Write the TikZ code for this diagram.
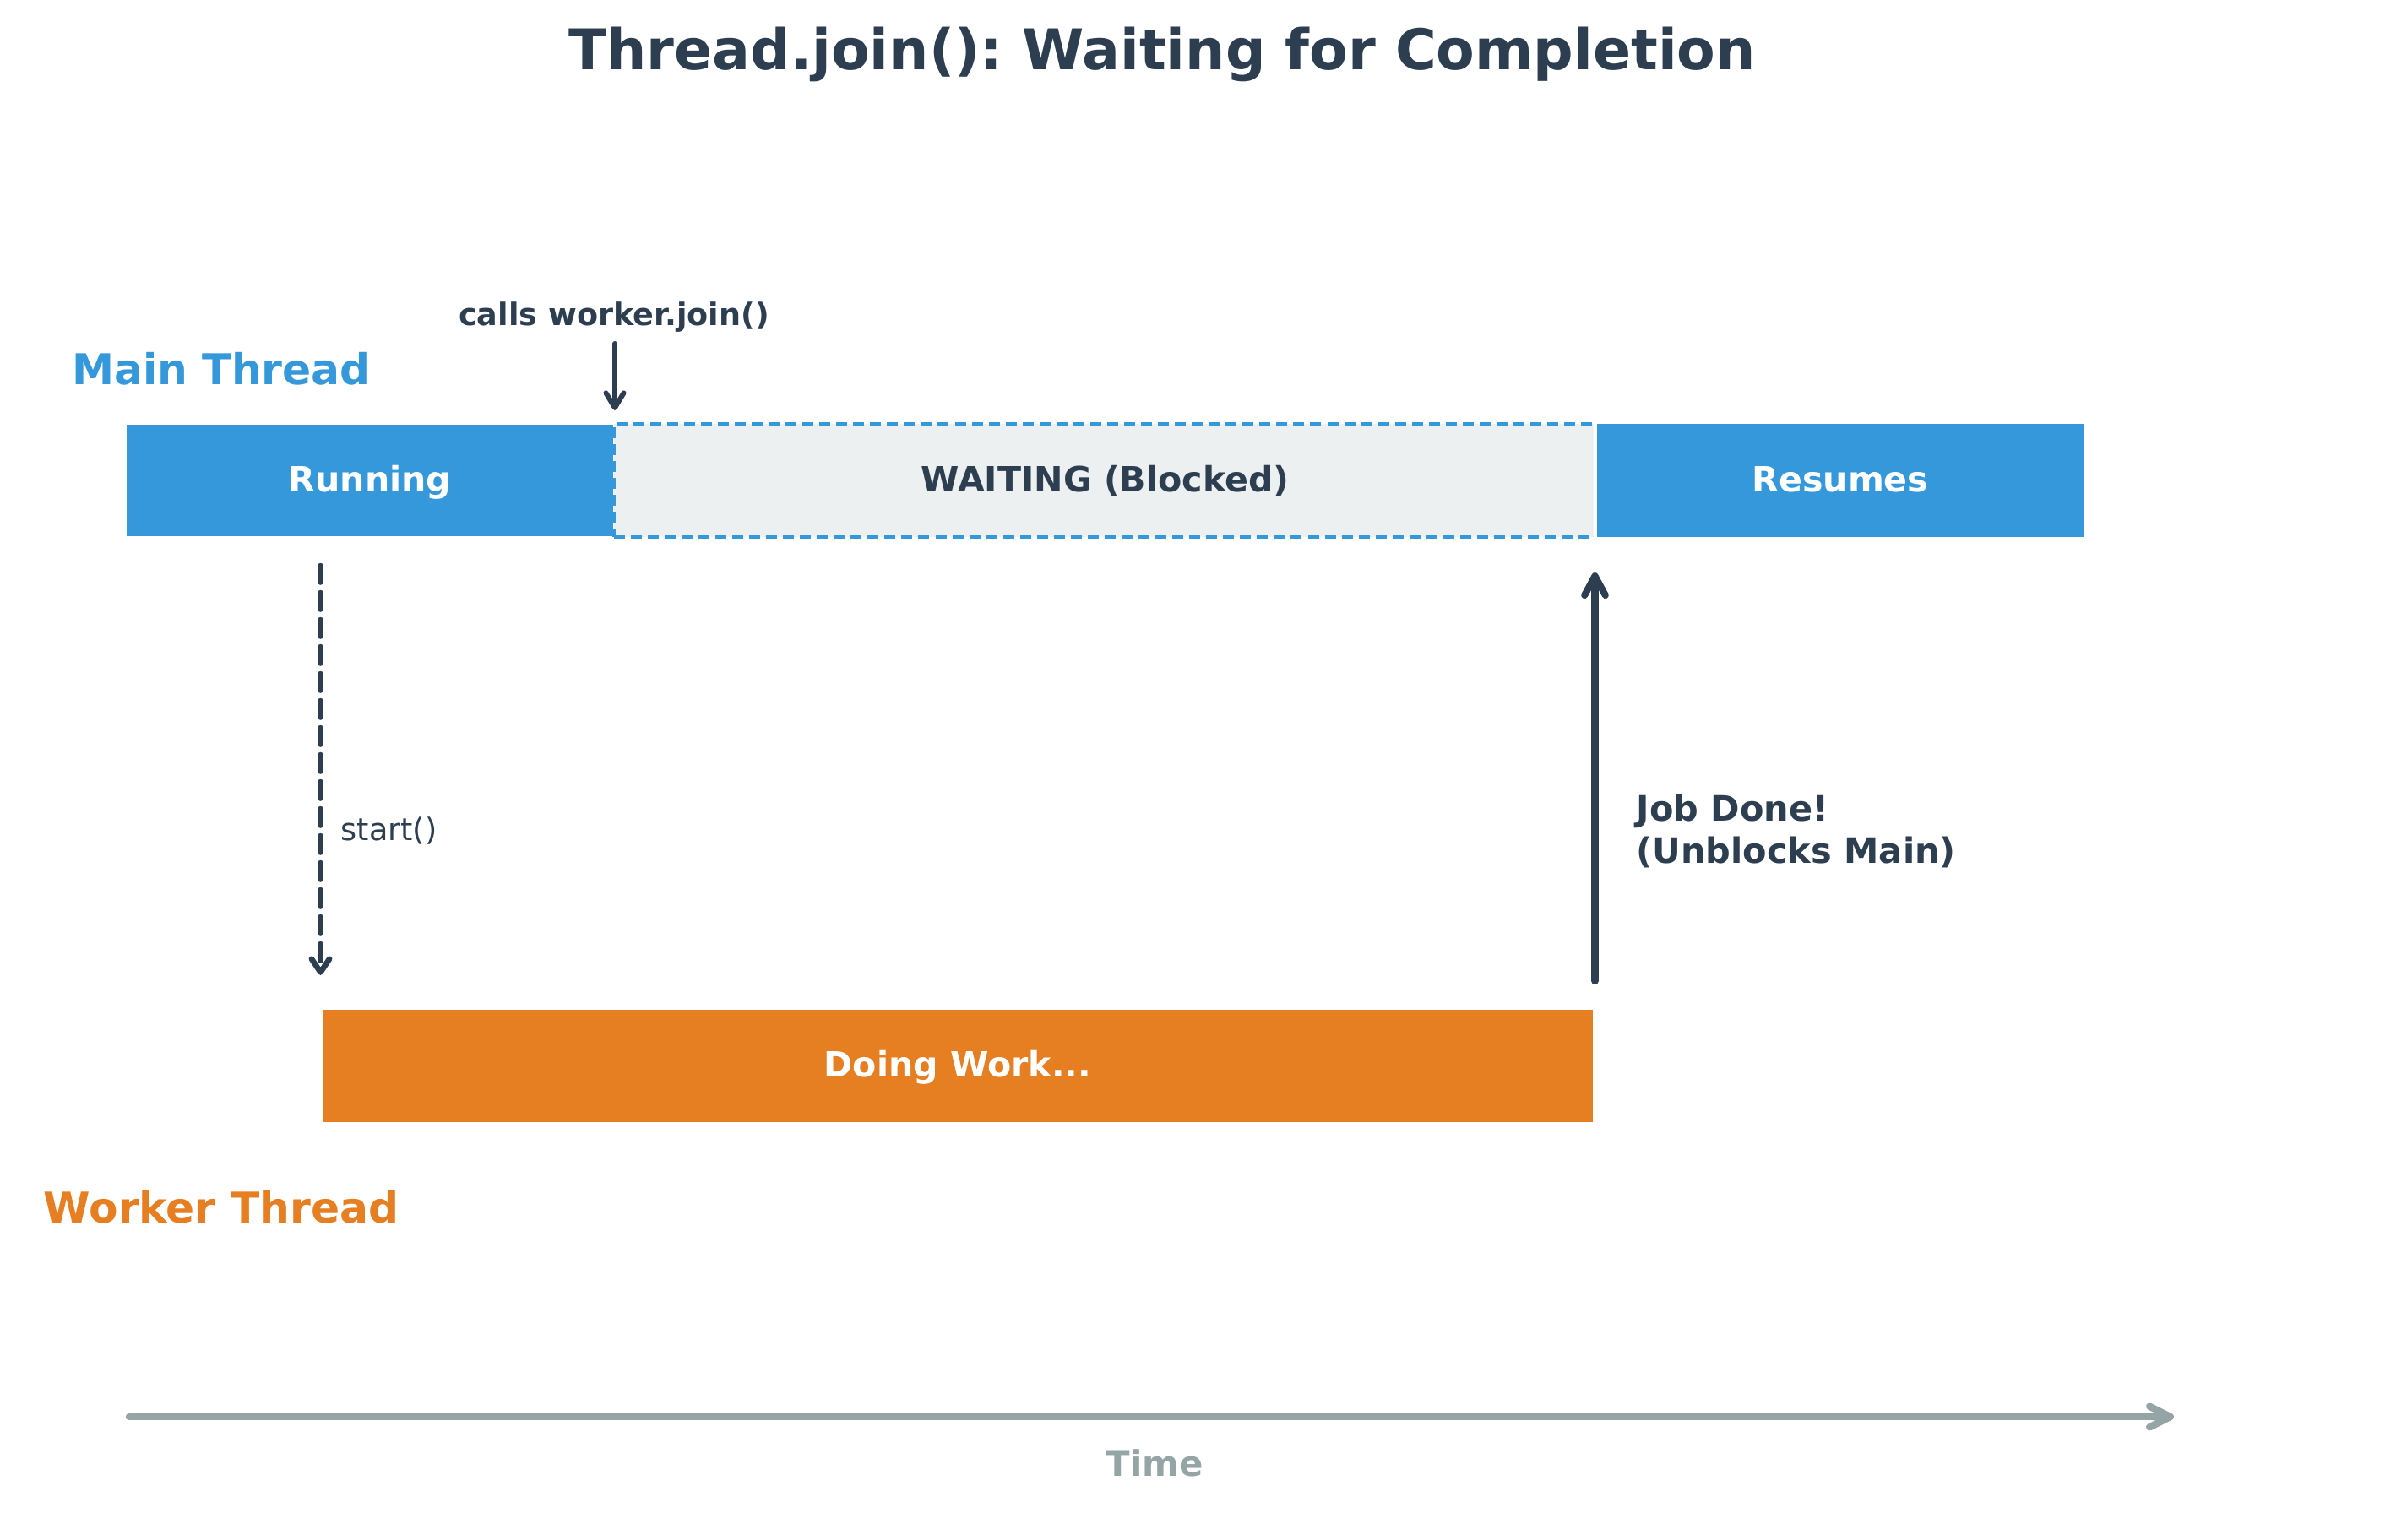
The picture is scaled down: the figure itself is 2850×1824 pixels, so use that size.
\documentclass[tikz,border=0pt]{standalone}
\usepackage{fontspec}
\setmainfont{DejaVu Sans}
\usetikzlibrary{arrows.meta}
\definecolor{cblue}{HTML}{3498DB}
\definecolor{corange}{HTML}{E67E22}
\definecolor{cdark}{HTML}{2C3E50}
\definecolor{cgray}{HTML}{95A5A6}
\definecolor{clight}{HTML}{ECF0F1}
\frenchspacing
\begin{document}
\begin{tikzpicture}[x=0.01cm,y=-0.01cm,
  bar/.style={rectangle, draw=white, line width=0.6pt, minimum height=1.34cm, inner sep=0pt,
    text height=8.4pt, text depth=1pt, font=\bfseries\fontsize{11.7}{14}\selectfont},
  waitbox/.style={bar, fill=clight, draw=cblue, line width=1.14pt, dash pattern=on 3.7pt off 2pt, text=cdark},
  runbox/.style={bar, fill=cblue, text=white},
  workbox/.style={bar, fill=corange, text=white},
  darrow/.style={draw=cdark, line cap=round},
  lbl/.style={text=cdark, inner sep=0pt}
]
\useasboundingbox (0,0) rectangle (2850,1824);

% title
\node[lbl, font=\bfseries\fontsize{18.9}{22}\selectfont, anchor=base] (title) at (1376,82) {Thread.join(): Waiting for Completion};

% thread labels
\node[lbl, text=cblue, font=\bfseries\fontsize{14.3}{17}\selectfont, anchor=base] (mainlbl) at (262,455) {Main Thread};
\node[lbl, text=corange, font=\bfseries\fontsize{14.3}{17}\selectfont, anchor=base] (workerlbl) at (262,1448) {Worker Thread};

% main thread bars
\node[runbox, minimum width=5.78cm] (run) at (438,569) {Running};
\node[waitbox, minimum width=11.63cm] (wait) at (1308.5,569) {WAITING (Blocked)};
\node[runbox, line width=1.14pt, minimum width=5.80cm, minimum height=1.38cm] (res) at (2179,569) {Resumes};

% worker bar
\node[workbox, minimum width=15.06cm, minimum height=1.35cm] (work) at (1134,1262.5) {Doing Work...};

% join call
\node[lbl, font=\bfseries\fontsize{10.4}{12}\selectfont, anchor=base] (joinlbl) at (727,385) {calls worker.join()};
\coordinate (jtop) at (728,407);
\draw[darrow, line width=1.7pt, -{Straight Barb[round,length=5pt,width=6pt]}, shorten >=0.14cm]
  (jtop) -- (jtop |- wait.north);

% start arrow
\draw[darrow, line width=1.9pt, dash pattern=on 5.5pt off 3.6pt, -{Straight Barb[round,length=4.5pt,width=6pt]},
  shorten <=0.33cm, shorten >=0.39cm]
  (run.south -| work.north west) -- (work.north west);
\node[lbl, font=\fontsize{10.4}{12}\selectfont, anchor=base west] (startlbl) at (403,995) {start()};

% job done arrow
\draw[darrow, line width=2.3pt, -{Straight Barb[round,length=6.5pt,width=7pt]},
  shorten <=0.32cm, shorten >=0.40cm]
  (work.north east) -- (work.north east |- wait.south);
\node[lbl, font=\bfseries\fontsize{11.8}{14.2}\selectfont, anchor=west, align=left] (donelbl) at (1937,984) {Job Done!\\(Unblocks Main)};

% time axis
\coordinate (t0) at (153,1678);
\coordinate (t1) at (2574,1678);
\draw[draw=cgray, line width=2.4pt, line cap=round, -{Straight Barb[round,length=7pt,width=7pt]}] (t0) -- (t1);
\node[lbl, text=cgray, font=\bfseries\fontsize{11.9}{14}\selectfont, anchor=base] (timelbl) at (1367,1748) {Time};
\end{tikzpicture}
\end{document}
